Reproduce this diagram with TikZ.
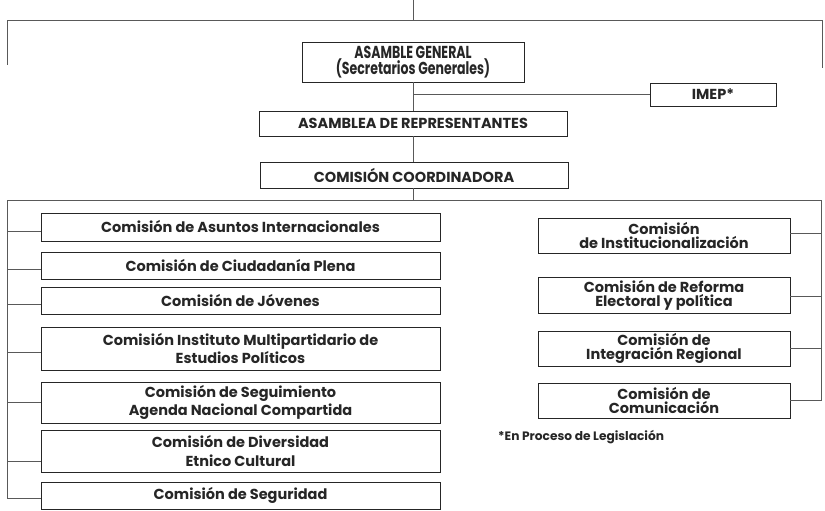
\documentclass[tikz,border=0pt]{standalone}
\usepackage{fontspec}
\setmainfont{Poppins}
\usepackage{graphicx}
\begin{document}
\begin{tikzpicture}[x=1pt,y=-1pt,
  box/.style={draw=black!85,line width=0.9pt,rectangle,inner sep=0pt,align=center,
    font=\fontsize{14.5}{14}\selectfont\bfseries,text=black!85},
  conn/.style={draw=black!65,line width=0.9pt}]
\useasboundingbox (0,0) rectangle (825,511);
% top frame
\coordinate (t0) at (413,0);
\coordinate (tbl) at (7,20);
\coordinate (tbr) at (822,20);
\coordinate (tl) at (7,65);
\coordinate (tr) at (822,68);
\draw[conn] (tl) -- (tbl) -- (tbr) -- (tr);
\draw[conn] (t0) -- (t0 |- tbl);
% main chain
\node[box,minimum width=222pt,minimum height=40pt] (ag) at (413,62)
  {\scalebox{0.76}[1.05]{\fontsize{16.5}{14}\selectfont ASAMBLE GENERAL}\\[-1pt]\scalebox{0.76}[1.05]{\fontsize{16.5}{14}\selectfont (Secretarios Generales)}};
\node[box,minimum width=126pt,minimum height=23pt] (imep) at (713,94.5) {IMEP*};
\node[box,minimum width=308pt,minimum height=25pt] (ar) at (413,123.5) {ASAMBLEA DE REPRESENTANTES};
\node[box,minimum width=308pt,minimum height=26pt] (cc) at (414,175) {COMISIÓN COORDINADORA};
\draw[conn] (ag.south) -- (ag.south |- ar.north);
\draw[conn] (ag.south |- imep.west) -- (imep.west);
\draw[conn] (ar.south) -- (ar.south |- cc.north);
\coordinate (bl) at (7,200);
\coordinate (br) at (821,200);
\draw[conn] (ar.south |- cc.south) -- (ar.south |- bl);
\draw[conn] (bl) -- (br);
% left column
\node[box,minimum width=399pt,minimum height=28pt] (b1) at (240.5,227) {Comisión de Asuntos Internacionales};
\node[box,minimum width=399pt,minimum height=27pt] (b2) at (240.5,265.5) {Comisión de Ciudadanía Plena};
\node[box,minimum width=399pt,minimum height=27pt] (b3) at (240.5,300.5) {Comisión de Jóvenes};
\node[box,minimum width=399pt,minimum height=43pt] (b4) at (240.5,348.5) {Comisión Instituto Multipartidario de\\[2pt]Estudios Políticos};
\node[box,minimum width=399pt,minimum height=41pt] (b5) at (240.5,402.5) {Comisión de Seguimiento\\[2pt]Agenda Nacional Compartida};
\node[box,minimum width=399pt,minimum height=42pt] (b6) at (240.5,451) {Comisión de Diversidad\\[5pt]Etnico Cultural};
\node[box,minimum width=399pt,minimum height=27pt] (b7) at (240.5,495.5) {Comisión de Seguridad};
\coordinate (lb) at (7,498);
\draw[conn] (bl) -- (lb) -- ([yshift=-2.5pt]b7.west);
\foreach \b/\s in {b1/-4,b2/-3.5,b3/-3.5,b4/-4,b5/0,b6/-10} \draw[conn] ([yshift=\s pt]\b.west) -- ([yshift=\s pt]\b.west -| bl);
% right column
\node[box,minimum width=252pt,minimum height=35pt] (r1) at (664,235.5) {Comisión\\[0pt]de Institucionalización};
\node[box,minimum width=252pt,minimum height=36pt] (r2) at (664,295) {Comisión de Reforma\\[0pt]Electoral y política};
\node[box,minimum width=252pt,minimum height=35pt] (r3) at (664,348.5) {Comisión de\\[0pt]Integración Regional};
\node[box,minimum width=252pt,minimum height=35pt] (r4) at (664,400.5) {Comisión de\\[0pt]Comunicación};
\coordinate (rb) at (821,400);
\draw[conn] (br) -- (rb) -- (rb -| r4.east);
\foreach \b/\s in {r1/2.5,r2/-1,r3/0.5} \draw[conn] ([yshift=\s pt]\b.east) -- ([yshift=\s pt]\b.east -| br);
\node[anchor=west,inner sep=0pt,font=\fontsize{12.2}{12}\selectfont\bfseries,text=black!85] (fn) at (498,437) {*En Proceso de Legislación};
\end{tikzpicture}
\end{document}
